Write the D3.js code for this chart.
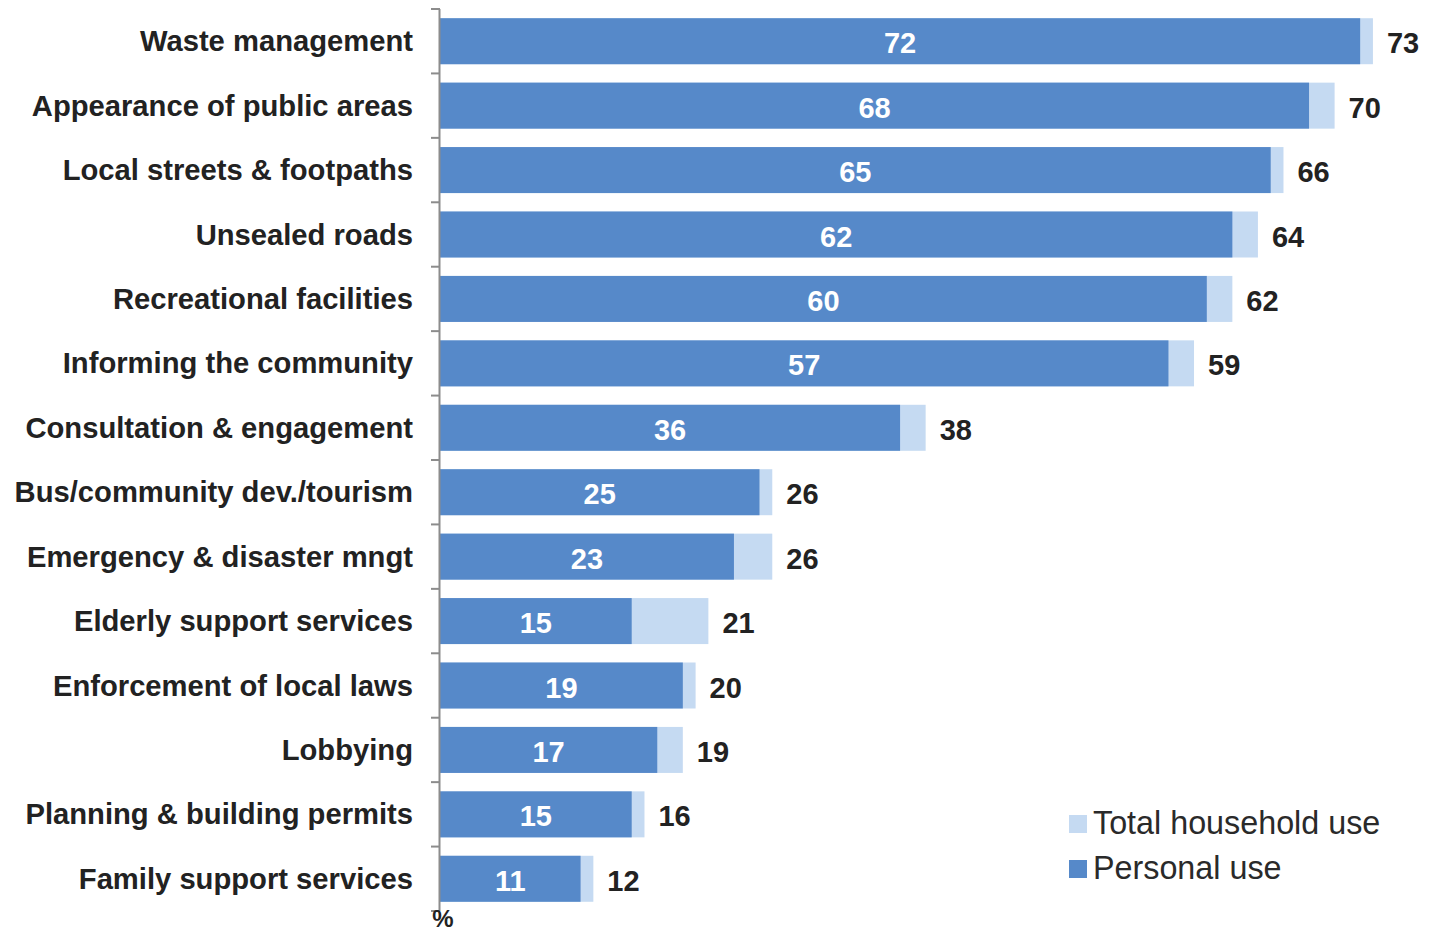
<!DOCTYPE html>
<html>
<head>
<meta charset="utf-8">
<script src="https://cdn.jsdelivr.net/npm/d3@7"></script>
<style>
  html, body { margin: 0; padding: 0; background: #fff; }
  svg { display: block; font-family: "Liberation Sans", Arial, sans-serif; }
</style>
</head>
<body>
<svg id="chart" width="1432" height="934"></svg>
<script>
// Council services used in the last 12 months (%)
const categories = [
  "Waste management",
  "Appearance of public areas",
  "Local streets & footpaths",
  "Unsealed roads",
  "Recreational facilities",
  "Informing the community",
  "Consultation & engagement",
  "Bus/community dev./tourism",
  "Emergency & disaster mngt",
  "Elderly support services",
  "Enforcement of local laws",
  "Lobbying",
  "Planning & building permits",
  "Family support services"
];
const personalUse = [72, 68, 65, 62, 60, 57, 36, 25, 23, 15, 19, 17, 15, 11];
const householdUse = [73, 70, 66, 64, 62, 59, 38, 26, 26, 21, 20, 19, 16, 12];
const seriesNames = ["Total household use", "Personal use"];
const unitLabel = "%";

const colors = { personal: "#5689C9", household: "#C5DAF2" };
const textColor = "#222";

const svg = d3.select("#chart");

const x = d3.scaleLinear().domain([0, 75]).range([440, 1398.5]);
const y = d3.scaleBand().domain(categories).range([9, 911]).padding(0);
const barH = 46;
const barY = d => y(d) + (y.step() - barH) / 2;

const rows = categories.map((c, i) => ({ cat: c, personal: personalUse[i], household: householdUse[i] }));

// household (total) bars sit behind the personal bars
svg.append("g").selectAll("rect")
  .data(rows).join("rect")
  .attr("x", x(0))
  .attr("y", d => barY(d.cat))
  .attr("width", d => x(d.household) - x(0))
  .attr("height", barH)
  .attr("fill", colors.household);

svg.append("g").selectAll("rect")
  .data(rows).join("rect")
  .attr("x", x(0))
  .attr("y", d => barY(d.cat))
  .attr("width", d => x(d.personal) - x(0))
  .attr("height", barH)
  .attr("fill", colors.personal);

// value labels: personal inside, total outside
svg.append("g").selectAll("text")
  .data(rows).join("text")
  .attr("x", d => (x(0) + x(d.personal)) / 2)
  .attr("y", d => y(d.cat) + y.step() / 2 + 12)
  .attr("text-anchor", "middle")
  .attr("font-size", 29)
  .attr("font-weight", "bold")
  .attr("fill", "#fff")
  .text(d => d.personal);

svg.append("g").selectAll("text")
  .data(rows).join("text")
  .attr("x", d => x(d.household) + 14)
  .attr("y", d => y(d.cat) + y.step() / 2 + 12)
  .attr("text-anchor", "start")
  .attr("font-size", 29)
  .attr("font-weight", "bold")
  .attr("fill", textColor)
  .text(d => d.household);

// category axis with ticks on band boundaries
const axisG = svg.append("g");
axisG.append("line")
  .attr("x1", 439.5).attr("x2", 439.5)
  .attr("y1", y.range()[0]).attr("y2", y.range()[1])
  .attr("stroke", "#8c8c8c").attr("stroke-width", 2);
const boundaries = categories.map(c => y(c)).concat([y.range()[1]]);
axisG.selectAll("line.tick")
  .data(boundaries).join("line")
  .attr("class", "tick")
  .attr("x1", 431).attr("x2", 440)
  .attr("y1", d => d).attr("y2", d => d)
  .attr("stroke", "#8c8c8c").attr("stroke-width", 2);

axisG.selectAll("text")
  .data(categories).join("text")
  .attr("x", 413)
  .attr("y", d => y(d) + y.step() / 2 + 10)
  .attr("text-anchor", "end")
  .attr("font-size", 29.2)
  .attr("font-weight", "bold")
  .attr("fill", textColor)
  .text(d => d);

svg.append("text")
  .attr("x", 443).attr("y", 927)
  .attr("text-anchor", "middle")
  .attr("font-size", 24)
  .attr("font-weight", "bold")
  .attr("fill", textColor)
  .text(unitLabel);

// legend
const legendColors = [colors.household, colors.personal];
const legend = svg.append("g");
const legendItems = legend.selectAll("g")
  .data(seriesNames).join("g")
  .attr("transform", (d, i) => `translate(1069, ${815 + i * 45})`);
legendItems.append("rect")
  .attr("width", 18).attr("height", 18)
  .attr("fill", (d, i) => legendColors[i]);
legendItems.append("text")
  .attr("x", 24).attr("y", 19)
  .attr("font-size", 32.3)
  .attr("fill", "#2a2a2a")
  .text(d => d);
</script>
</body>
</html>
